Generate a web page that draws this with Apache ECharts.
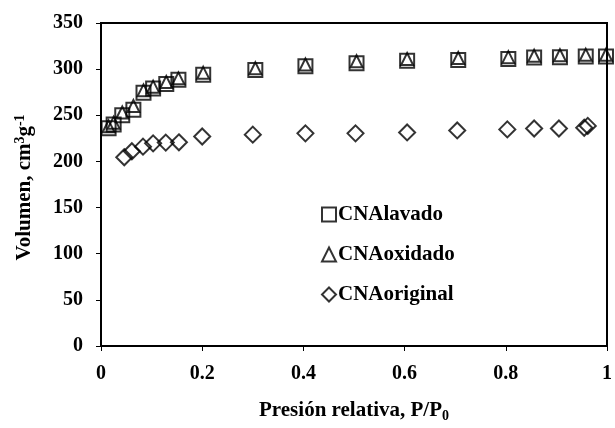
<!DOCTYPE html>
<html>
<head>
<meta charset="utf-8">
<script src="https://cdn.jsdelivr.net/npm/echarts@6/dist/echarts.min.js"></script>
<style>
  html, body { margin: 0; padding: 0; background: #fff; }
  #chart { width: 615px; height: 428px; }
</style>
</head>
<body>
<div id="chart"></div>
<script>
// presión relativa P/P0
let pLavado = [0.015, 0.025, 0.042, 0.064, 0.084, 0.103, 0.129, 0.153, 0.202, 0.305, 0.404, 0.505, 0.605, 0.706, 0.805, 0.856, 0.907, 0.958, 0.998];
let vLavado = [236, 240, 250, 256, 274.5, 279, 284, 288.5, 294, 299, 303, 306.5, 309, 310, 311, 312.5, 313, 313.6, 313.6];
let vOxidado = [238, 242, 253, 260, 277, 281, 286, 290, 296, 301, 305, 308.5, 311, 312, 313, 314.5, 315, 315.5, 315.5];
let pOriginal = [0.046, 0.061, 0.083, 0.103, 0.128, 0.154, 0.2, 0.3, 0.404, 0.503, 0.605, 0.704, 0.803, 0.856, 0.905, 0.955, 0.962];
let vOriginal = [204.5, 211, 216, 219.6, 220.4, 220.7, 227, 229, 230.4, 230.4, 231.4, 233.6, 234.7, 235.7, 235.7, 236.5, 238.5];

let serieNames = ['CNAlavado', 'CNAoxidado', 'CNAoriginal'];

function pares(xs, ys) {
    return xs.map(function (x, i) { return [x, ys[i]]; });
}

let fuente = '"Liberation Serif", "Times New Roman", serif';
let hueco = {
    color: 'rgba(0,0,0,0)',
    borderColor: '#000',
    borderWidth: 2
};

let option = {
    animation: false,
    grid: {
        left: 101,
        right: 8,
        top: 23,
        bottom: 80,
        show: true,
        borderColor: '#000',
        borderWidth: 2
    },
    legend: {
        orient: 'vertical',
        left: 316,
        top: 199,
        itemWidth: 14,
        itemHeight: 14,
        itemGap: 19,
        textStyle: {
            fontFamily: fuente,
            fontWeight: 'bold',
            fontSize: 21,
            color: '#000',
            padding: [0, 0, 0, -3]
        },
        data: [
            { name: serieNames[0], icon: 'rect', itemStyle: { borderWidth: 2 } },
            { name: serieNames[1], icon: 'triangle', itemStyle: { borderWidth: 2 } },
            { name: serieNames[2], icon: 'diamond', itemStyle: { borderWidth: 2 } }
        ]
    },
    xAxis: {
        type: 'value',
        min: 0,
        max: 1,
        interval: 0.2,
        name: 'Presión relativa, P/P{sub|0}',
        nameLocation: 'middle',
        nameGap: 53,
        nameTextStyle: {
            fontFamily: fuente,
            fontWeight: 'bold',
            fontSize: 21,
            color: '#000',
            rich: {
                sub: {
                    fontFamily: fuente,
                    fontWeight: 'bold',
                    fontSize: 14,
                    color: '#000',
                    padding: [10, 0, 0, 0]
                }
            }
        },
        axisLine: { lineStyle: { color: '#000', width: 2 } },
        axisTick: { show: true, length: 5, lineStyle: { color: '#000', width: 1 } },
        splitLine: { show: false },
        axisLabel: {
            margin: 18,
            fontFamily: fuente,
            fontWeight: 'bold',
            fontSize: 20,
            color: '#000'
        }
    },
    yAxis: {
        type: 'value',
        min: 0,
        max: 350,
        interval: 50,
        name: 'Volumen, cm{sup|3}g{sup|-1}',
        nameLocation: 'middle',
        nameGap: 64,
        nameTextStyle: {
            fontFamily: fuente,
            fontWeight: 'bold',
            fontSize: 21,
            color: '#000',
            padding: [0, 6, 0, 0],
            rich: {
                sup: {
                    fontFamily: fuente,
                    fontWeight: 'bold',
                    fontSize: 14,
                    color: '#000',
                    padding: [0, 0, 10, 0]
                }
            }
        },
        axisLine: { show: true, lineStyle: { color: '#000', width: 2 } },
        axisTick: { show: true, length: 5, lineStyle: { color: '#000', width: 1 } },
        splitLine: { show: false },
        axisLabel: {
            margin: 18,
            fontFamily: fuente,
            fontWeight: 'bold',
            fontSize: 20,
            color: '#000'
        }
    },
    series: [
        {
            name: serieNames[0],
            type: 'scatter',
            symbol: 'rect',
            symbolSize: 14,
            itemStyle: hueco,
            data: pares(pLavado, vLavado)
        },
        {
            name: serieNames[1],
            type: 'scatter',
            symbol: 'triangle',
            symbolSize: 12,
            itemStyle: hueco,
            data: pares(pLavado, vOxidado)
        },
        {
            name: serieNames[2],
            type: 'scatter',
            symbol: 'diamond',
            symbolSize: 16,
            itemStyle: hueco,
            data: pares(pOriginal, vOriginal)
        }
    ]
};
echarts.init(document.getElementById('chart')).setOption(option);
</script>
</body>
</html>
